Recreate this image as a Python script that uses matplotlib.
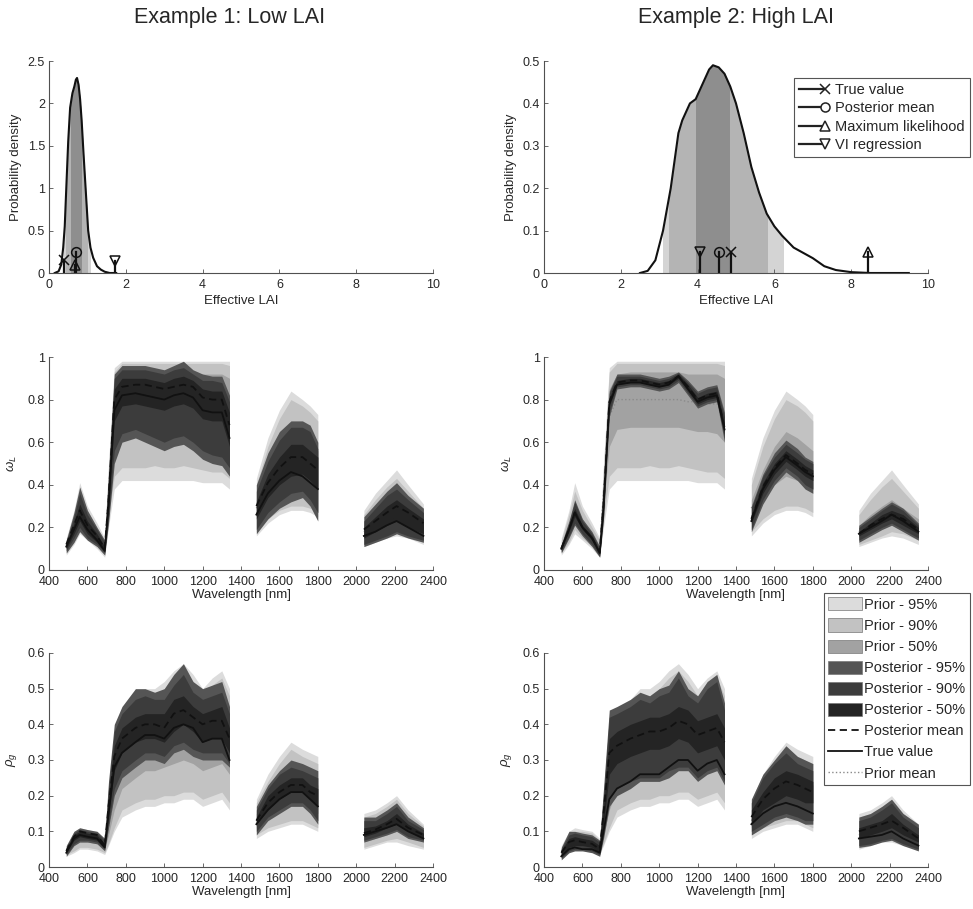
import numpy as np
import matplotlib
matplotlib.use('Agg')
import matplotlib.pyplot as plt
from matplotlib.lines import Line2D
from matplotlib.patches import Patch, Rectangle
from matplotlib.ticker import FuncFormatter

plt.rcParams['font.family'] = ['Liberation Sans', 'DejaVu Sans']
plt.rcParams['mathtext.fontset'] = 'custom'
plt.rcParams['mathtext.rm'] = 'Liberation Sans'
plt.rcParams['mathtext.it'] = 'Liberation Sans:italic'

# ---------------- density data ----------------
lai1_x = [0.15, 0.25, 0.32, 0.37, 0.41, 0.45, 0.50, 0.55, 0.61, 0.66, 0.70, 0.73, 0.77, 0.81,
          0.85, 0.90, 0.96, 1.02, 1.08, 1.15, 1.25, 1.35, 1.45, 1.58, 1.75]
lai1_y = [0, 0.02, 0.1, 0.3, 0.55, 1.0, 1.55, 1.95, 2.12, 2.2, 2.28, 2.3, 2.22, 2.05,
          1.8, 1.4, 0.95, 0.5, 0.3, 0.18, 0.08, 0.04, 0.015, 0.0, 0.0]
lai1_int95 = [0.38, 1.08]
lai1_int90 = [0.43, 1.00]
lai1_int50 = [0.56, 0.84]
lai1_est = [0.38, 0.70, 0.68, 1.71]          # true, post mean, max lik, VI
lai1_est_h = [0.15, 0.25, 0.10, 0.14]

lai2_x = [2.5, 2.7, 2.9, 3.1, 3.3, 3.5, 3.6, 3.8, 3.95, 4.1, 4.3, 4.4, 4.55, 4.7, 4.85, 5.0,
          5.2, 5.4, 5.6, 5.8, 6.0, 6.2, 6.5, 6.8, 7.0, 7.3, 7.6, 8.0, 8.5, 9.5]
lai2_y = [0, 0.005, 0.03, 0.1, 0.2, 0.33, 0.36, 0.4, 0.41, 0.44, 0.48, 0.49, 0.485, 0.47, 0.44, 0.40,
          0.33, 0.25, 0.19, 0.14, 0.11, 0.088, 0.06, 0.045, 0.035, 0.016, 0.007, 0.002, 0, 0]
lai2_int95 = [3.10, 6.23]
lai2_int90 = [3.25, 5.80]
lai2_int50 = [3.97, 4.83]
lai2_est = [4.86, 4.55, 8.43, 4.06]
lai2_est_h = [0.05, 0.05, 0.05, 0.05]

est_labels = ['True value', 'Posterior mean', 'Maximum likelihood', 'VI regression']
est_markers = ['x', 'o', '^', 'v']

# ---------------- spectral data ----------------
wl = [490, 530, 560, 600, 650, 690, 710, 740, 780, 850, 900, 950, 1000, 1050, 1100, 1150, 1200, 1250, 1300, 1340,
      1480, 1540, 1600, 1660, 1720, 1760, 1800,
      2040, 2100, 2160, 2210, 2270, 2350]

# prior for leaf albedo (shared)
wL_pr95_lo = [.07, .12, .17, .14, .10, .06, .20, .38, .42, .42, .42, .42, .42, .42, .42, .42, .41, .41, .41, .38,
              .16, .22, .26, .28, .28, .27, .25, .11, .13, .15, .16, .15, .12]
wL_pr95_hi = [.15, .28, .41, .30, .22, .15, .50, .95, .98, .98, .98, .98, .98, .98, .98, .98, .98, .98, .98, .98,
              .43, .62, .75, .84, .80, .77, .73, .28, .36, .42, .47, .40, .31]
wL_pr90_lo = [.08, .13, .19, .15, .11, .07, .24, .44, .48, .48, .48, .49, .48, .48, .49, .48, .47, .46, .46, .43,
              .18, .24, .28, .30, .30, .29, .27, .12, .14, .16, .18, .17, .14]
wL_pr90_hi = [.14, .26, .37, .28, .20, .14, .48, .93, .97, .97, .97, .97, .97, .97, .97, .97, .97, .97, .97, .96,
              .40, .58, .71, .80, .77, .74, .70, .26, .33, .39, .43, .37, .29]
wL_pr50_lo = [.09, .16, .23, .18, .13, .08, .30, .58, .66, .67, .67, .67, .67, .67, .67, .66, .65, .65, .64, .60,
              .25, .33, .40, .44, .42, .40, .38, .15, .18, .21, .23, .21, .18]
wL_pr50_hi = [.12, .21, .31, .24, .17, .11, .42, .85, .92, .93, .93, .93, .93, .93, .93, .92, .92, .92, .92, .90,
              .33, .47, .58, .65, .62, .59, .56, .21, .26, .30, .33, .29, .24]
wL_pr_mean = [.105, .185, .27, .21, .15, .095, .36, .72, .80, .80, .80, .80, .80, .80, .80, .79, .79, .78, .78, .75,
              .29, .40, .49, .55, .52, .50, .47, .18, .22, .26, .28, .25, .21]

# example 1 leaf albedo posterior
wL1_true = [.11, .19, .25, .19, .14, .09, .30, .75, .82, .83, .82, .81, .80, .82, .83, .81, .75, .74, .74, .62,
            .26, .36, .42, .46, .44, .41, .38, .16, .18, .21, .23, .20, .16]
wL1_mean = [.12, .21, .28, .21, .16, .10, .33, .80, .86, .87, .87, .86, .85, .86, .87, .86, .81, .80, .80, .68,
            .30, .41, .48, .53, .53, .50, .47, .19, .23, .27, .30, .27, .22]
wL1_p95_lo = [.08, .13, .18, .14, .11, .07, .22, .50, .60, .62, .60, .58, .56, .58, .59, .56, .52, .50, .49, .44,
              .17, .24, .29, .32, .34, .30, .23, .11, .13, .15, .17, .15, .13]
wL1_p95_hi = [.14, .27, .39, .28, .20, .14, .45, .92, .96, .96, .96, .95, .94, .96, .98, .94, .92, .91, .91, .82,
              .40, .55, .65, .70, .70, .68, .60, .25, .31, .37, .41, .35, .29]
wL1_p90_lo = [.09, .15, .20, .15, .12, .08, .25, .56, .64, .66, .64, .62, .60, .62, .63, .60, .56, .54, .53, .48,
              .19, .27, .32, .36, .37, .33, .27, .12, .14, .16, .18, .16, .14]
wL1_p90_hi = [.13, .25, .36, .26, .19, .13, .42, .90, .94, .94, .94, .93, .92, .94, .95, .92, .89, .89, .88, .79,
              .37, .51, .61, .67, .67, .65, .57, .23, .29, .35, .38, .33, .27]
wL1_p50_lo = [.10, .17, .23, .17, .13, .085, .29, .70, .77, .78, .77, .76, .75, .77, .78, .76, .71, .70, .70, .58,
              .24, .34, .40, .44, .45, .42, .38, .15, .18, .21, .23, .20, .17]
wL1_p50_hi = [.12, .22, .31, .23, .17, .11, .37, .85, .90, .90, .90, .89, .88, .90, .91, .89, .85, .84, .84, .74,
              .32, .45, .53, .59, .59, .56, .53, .20, .25, .30, .33, .29, .24]

# example 2 leaf albedo posterior
wL2_true = [.10, .19, .27, .20, .15, .08, .30, .78, .87, .88, .88, .87, .86, .87, .91, .85, .79, .81, .82, .66,
            .23, .38, .47, .53, .49, .46, .44, .17, .20, .23, .26, .23, .18]
wL2_mean = [.10, .19, .27, .20, .15, .085, .31, .79, .88, .89, .89, .88, .87, .88, .91, .86, .80, .82, .83, .67,
            .24, .39, .48, .54, .50, .47, .45, .17, .21, .24, .26, .24, .19]
wL2_p95_lo = [.08, .15, .21, .16, .11, .06, .24, .72, .85, .86, .86, .85, .84, .85, .88, .82, .76, .78, .79, .60,
              .18, .31, .40, .46, .42, .38, .36, .13, .16, .19, .21, .18, .14]
wL2_p95_hi = [.12, .23, .33, .24, .18, .11, .36, .84, .92, .92, .92, .91, .90, .91, .93, .89, .84, .86, .87, .74,
              .30, .45, .55, .61, .57, .53, .51, .21, .25, .29, .32, .29, .22]
wL2_p90_lo = [.085, .16, .22, .17, .12, .065, .25, .74, .86, .87, .87, .86, .85, .86, .89, .83, .77, .79, .80, .62,
              .19, .33, .42, .48, .44, .40, .38, .14, .17, .20, .22, .19, .15]
wL2_p90_hi = [.115, .22, .32, .23, .17, .10, .35, .83, .91, .91, .91, .90, .89, .90, .925, .88, .83, .85, .86, .72,
              .29, .44, .53, .59, .55, .52, .50, .20, .24, .28, .31, .28, .21]
wL2_p50_lo = [.095, .18, .25, .19, .14, .075, .28, .77, .87, .88, .88, .87, .86, .87, .90, .84, .78, .80, .81, .64,
              .22, .36, .45, .51, .47, .44, .42, .16, .19, .22, .24, .21, .17]
wL2_p50_hi = [.105, .20, .29, .21, .16, .09, .33, .81, .89, .90, .90, .89, .88, .89, .92, .87, .81, .83, .84, .69,
              .26, .41, .50, .56, .52, .49, .47, .18, .22, .26, .28, .26, .20]

# prior for ground reflectance (shared)
rg_pr95_lo = [.03, .04, .05, .05, .045, .035, .06, .10, .14, .16, .17, .17, .18, .18, .19, .19, .17, .18, .19, .16,
              .08, .10, .11, .12, .12, .11, .10, .05, .06, .07, .07, .06, .05]
rg_pr95_hi = [.06, .10, .11, .105, .10, .08, .17, .34, .42, .47, .50, .50, .52, .55, .57, .54, .50, .53, .55, .50,
              .19, .26, .31, .35, .33, .32, .31, .15, .16, .18, .20, .16, .12]
rg_pr90_lo = [.035, .045, .055, .055, .05, .04, .065, .11, .16, .18, .19, .19, .20, .20, .21, .21, .19, .20, .21, .18,
              .09, .11, .12, .13, .13, .12, .11, .055, .065, .075, .08, .07, .055]
rg_pr90_hi = [.055, .09, .10, .10, .095, .075, .16, .32, .40, .45, .48, .48, .50, .53, .55, .52, .48, .51, .53, .48,
              .18, .24, .29, .33, .31, .30, .29, .14, .15, .17, .19, .15, .115]
rg_pr50_lo = [.04, .06, .07, .07, .065, .05, .09, .16, .22, .25, .27, .27, .28, .29, .30, .29, .27, .28, .29, .26,
              .11, .14, .16, .18, .18, .17, .15, .07, .08, .09, .10, .09, .07]
rg_pr50_hi = [.05, .08, .09, .09, .085, .065, .13, .26, .33, .37, .39, .39, .41, .43, .45, .42, .39, .41, .43, .38,
              .15, .20, .24, .27, .26, .25, .23, .11, .12, .14, .15, .12, .09]
rg_pr_mean = [.045, .07, .08, .08, .075, .058, .11, .21, .28, .31, .33, .33, .34, .36, .37, .36, .33, .35, .36, .32,
              .13, .17, .20, .22, .22, .21, .19, .09, .10, .115, .125, .105, .08]

# example 1 ground reflectance posterior
rg1_true = [.04, .08, .09, .085, .08, .055, .15, .28, .32, .35, .37, .37, .36, .39, .40, .39, .35, .36, .36, .30,
            .12, .16, .19, .21, .21, .19, .17, .09, .10, .11, .12, .10, .08]
rg1_mean = [.045, .085, .10, .095, .09, .06, .17, .31, .36, .39, .40, .40, .39, .43, .44, .42, .40, .41, .41, .36,
            .13, .18, .21, .23, .23, .21, .20, .095, .105, .12, .135, .11, .09]
rg1_p95_lo = [.03, .06, .07, .07, .065, .045, .11, .20, .25, .28, .30, .30, .29, .32, .33, .31, .30, .30, .30, .28,
              .09, .13, .15, .17, .17, .15, .12, .07, .08, .09, .10, .08, .07]
rg1_p95_hi = [.06, .10, .11, .105, .10, .08, .24, .40, .45, .50, .50, .49, .50, .54, .57, .52, .50, .51, .52, .45,
              .17, .23, .27, .30, .29, .28, .27, .14, .14, .16, .18, .14, .11]
rg1_p90_lo = [.035, .065, .075, .075, .07, .05, .12, .22, .27, .30, .32, .32, .31, .34, .35, .33, .32, .32, .32, .29,
              .10, .14, .16, .18, .18, .16, .13, .075, .085, .095, .105, .085, .075]
rg1_p90_hi = [.055, .095, .105, .10, .095, .075, .22, .38, .43, .47, .48, .47, .47, .51, .54, .49, .47, .48, .49, .43,
              .16, .22, .26, .28, .27, .26, .25, .13, .13, .15, .17, .13, .105]
rg1_p50_lo = [.04, .075, .085, .08, .075, .055, .14, .27, .32, .35, .36, .36, .35, .38, .40, .38, .35, .36, .36, .32,
              .12, .16, .19, .21, .21, .19, .17, .085, .095, .11, .12, .10, .08]
rg1_p50_hi = [.05, .09, .10, .095, .09, .065, .19, .34, .39, .42, .43, .43, .43, .47, .48, .45, .43, .44, .45, .39,
              .14, .20, .23, .25, .25, .23, .22, .11, .115, .13, .15, .12, .095]

# example 2 ground reflectance posterior
rg2_true = [.03, .05, .055, .05, .05, .04, .10, .19, .22, .24, .26, .26, .26, .28, .30, .30, .27, .29, .30, .26,
            .12, .15, .17, .18, .17, .16, .15, .08, .085, .09, .10, .08, .06]
rg2_mean = [.04, .07, .075, .07, .065, .05, .15, .32, .34, .36, .37, .38, .38, .39, .41, .40, .37, .38, .39, .35,
            .14, .19, .22, .24, .23, .22, .21, .10, .11, .12, .13, .11, .08]
rg2_p95_lo = [.02, .04, .045, .045, .04, .03, .08, .17, .20, .22, .24, .24, .24, .25, .27, .27, .24, .26, .27, .23,
              .09, .11, .13, .14, .13, .12, .12, .055, .06, .07, .075, .06, .045]
rg2_p95_hi = [.055, .10, .10, .095, .09, .075, .22, .44, .45, .47, .49, .48, .50, .51, .55, .50, .48, .52, .54, .46,
              .19, .26, .30, .34, .31, .30, .29, .14, .15, .17, .19, .15, .12]
rg2_p90_lo = [.025, .045, .05, .05, .045, .035, .09, .19, .22, .24, .25, .25, .25, .27, .28, .28, .25, .27, .28, .24,
              .10, .12, .14, .15, .14, .13, .13, .06, .065, .075, .08, .065, .05]
rg2_p90_hi = [.05, .09, .095, .09, .085, .07, .20, .42, .43, .45, .47, .46, .48, .49, .53, .48, .46, .50, .52, .44,
              .18, .25, .29, .32, .29, .28, .27, .13, .14, .16, .18, .14, .11]
rg2_p50_lo = [.03, .055, .06, .06, .055, .04, .12, .26, .29, .31, .32, .33, .33, .34, .36, .35, .32, .33, .34, .30,
              .12, .16, .18, .20, .19, .18, .18, .08, .09, .10, .11, .09, .07]
rg2_p50_hi = [.045, .08, .085, .08, .075, .06, .17, .36, .38, .40, .41, .42, .42, .43, .45, .44, .41, .42, .43, .39,
              .16, .21, .25, .27, .26, .25, .24, .11, .12, .13, .15, .12, .09]

band_labels = ['Prior - 95%', 'Prior - 90%', 'Prior - 50%',
               'Posterior - 95%', 'Posterior - 90%', 'Posterior - 50%']
band_colors = ['#dcdcdc', '#c2c2c2', '#a2a2a2', '#555555', '#3c3c3c', '#242424']
dens_colors = ['#d4d4d4', '#b4b4b4', '#8e8e8e']

# ---------------- figure ----------------
W, H = 973, 909
fig = plt.figure(figsize=(W / 100, H / 100), dpi=100)
TXT = '#262626'
AX = '#505050'


def pos(l, t, r, b):
    return [l / W, 1 - b / H, (r - l) / W, (b - t) / H]


fmt = FuncFormatter(lambda v, p: '%g' % round(v, 6))


def style(ax):
    for s in ['top', 'right']:
        ax.spines[s].set_visible(False)
    for s in ['left', 'bottom']:
        ax.spines[s].set_color(AX)
        ax.spines[s].set_linewidth(0.8)
    ax.tick_params(direction='in', length=3, width=0.6, color=AX, labelcolor=TXT, labelsize=9, pad=3)
    ax.tick_params(axis='x', pad=4)
    ax.xaxis.set_major_formatter(fmt)
    ax.yaxis.set_major_formatter(fmt)


class StemHandler:
    def legend_artist(self, legend, orig_handle, fontsize, handlebox):
        x0, y0 = handlebox.xdescent, handlebox.ydescent
        w, h = handlebox.width, handlebox.height
        tr = handlebox.get_transform()
        ln = Line2D([x0, x0 + w], [y0 + h / 2] * 2, color='#222222', lw=1.6, transform=tr)
        mk = Line2D([x0 + w], [y0 + h / 2], marker=orig_handle.get_marker(), ms=6.5,
                    mfc='white' if orig_handle.get_marker() != 'x' else 'k', mec='#222222', mew=1.1,
                    lw=0, transform=tr)
        handlebox.add_artist(ln)
        handlebox.add_artist(mk)
        return ln


def density(ax, xs, ys, ints, est, est_h, ymax, yticks):
    xs = np.array(xs)
    ys = np.array(ys)
    for (lo, hi), c in zip(ints, dens_colors):
        poly = ax.fill_between(xs, 0, ys, color=c, lw=0)
        poly.set_clip_path(Rectangle((lo, 0), hi - lo, ymax * 2, transform=ax.transData))
    ax.plot(xs, ys, color='#111111', lw=1.5)
    handles = []
    for xv, hv, m, lab in zip(est, est_h, est_markers, est_labels):
        ax.plot([xv, xv], [0, hv], color='#111111', lw=1.6)
        ax.plot([xv], [hv], marker=m, ms=7, mfc='none', mec='#111111', mew=1.1, lw=0)
        handles.append(Line2D([], [], marker=m, color='k', label=lab))
    ax.set_xlim(0, 10)
    ax.set_ylim(0, ymax)
    ax.set_xticks(range(0, 11, 2))
    ax.set_yticks(yticks)
    ax.set_xlabel('Effective LAI', fontsize=9.5, color=TXT, labelpad=3)
    ax.set_ylabel('Probability density', fontsize=9.5, color=TXT, labelpad=4)
    style(ax)
    return handles


ax1 = fig.add_axes(pos(49, 61, 433, 273))
h_est = density(ax1, lai1_x, lai1_y, [lai1_int95, lai1_int90, lai1_int50], lai1_est, lai1_est_h,
                2.5, np.arange(0, 2.51, 0.5))
ax2 = fig.add_axes(pos(544, 61, 928, 273))
density(ax2, lai2_x, lai2_y, [lai2_int95, lai2_int90, lai2_int50], lai2_est, lai2_est_h,
        0.5, np.arange(0, 0.51, 0.1))
leg1 = ax2.legend(handles=h_est, labels=est_labels, handler_map={Line2D: StemHandler()},
                  loc='upper right', bbox_to_anchor=(970 / W, 1 - 78 / H), bbox_transform=fig.transFigure,
                  fontsize=10.5, frameon=True, fancybox=False, edgecolor='#555555', framealpha=1,
                  handlelength=1.8, handletextpad=0.7, labelspacing=0.3, borderpad=0.35, borderaxespad=0)
leg1.get_frame().set_linewidth(0.8)
for t in leg1.get_texts():
    t.set_color(TXT)

wl_arr = np.array(wl)
breaks = np.where(np.diff(wl_arr) > 100)[0] + 1
segments = np.split(np.arange(len(wl_arr)), breaks)


def spectral(ax, prior, post, true, mean, pmean, ymax, yticks, ylabel):
    pm = np.array(pmean)
    tv = np.array(true)
    mv = np.array(mean)
    for (lo, hi), c in zip(prior, band_colors[:3]):
        lo = np.array(lo)
        hi = np.array(hi)
        for s in segments:
            ax.fill_between(wl_arr[s], lo[s], hi[s], color=c, lw=0, zorder=1.0)
    for s in segments:
        ax.plot(wl_arr[s], pm[s], color='#8a8a8a', lw=1.0, ls=':', zorder=1.2)
    for (lo, hi), c in zip(post, band_colors[3:]):
        lo = np.array(lo)
        hi = np.array(hi)
        for s in segments:
            ax.fill_between(wl_arr[s], lo[s], hi[s], color=c, lw=0, zorder=1.5)
    for s in segments:
        ax.plot(wl_arr[s], tv[s], color='#111111', lw=1.3, zorder=2.0)
        ax.plot(wl_arr[s], mv[s], color='#111111', lw=1.3, ls=(0, (4, 2.5)), zorder=2.1)
    ax.set_xlim(400, 2400)
    ax.set_ylim(0, ymax)
    ax.set_xticks(range(400, 2401, 200))
    ax.set_yticks(yticks)
    ax.set_xlabel('Wavelength [nm]', fontsize=9.5, color=TXT, labelpad=1)
    ax.set_ylabel(ylabel, fontsize=9.5, color=TXT, labelpad=6)
    style(ax)


prior_wL = [(wL_pr95_lo, wL_pr95_hi), (wL_pr90_lo, wL_pr90_hi), (wL_pr50_lo, wL_pr50_hi)]
prior_rg = [(rg_pr95_lo, rg_pr95_hi), (rg_pr90_lo, rg_pr90_hi), (rg_pr50_lo, rg_pr50_hi)]

ax3 = fig.add_axes(pos(49, 357, 433, 570))
spectral(ax3, prior_wL, [(wL1_p95_lo, wL1_p95_hi), (wL1_p90_lo, wL1_p90_hi), (wL1_p50_lo, wL1_p50_hi)],
         wL1_true, wL1_mean, wL_pr_mean, 1, np.arange(0, 1.01, 0.2), r'$\omega_L$')
ax4 = fig.add_axes(pos(544, 357, 928, 570))
spectral(ax4, prior_wL, [(wL2_p95_lo, wL2_p95_hi), (wL2_p90_lo, wL2_p90_hi), (wL2_p50_lo, wL2_p50_hi)],
         wL2_true, wL2_mean, wL_pr_mean, 1, np.arange(0, 1.01, 0.2), r'$\omega_L$')
ax5 = fig.add_axes(pos(49, 653, 433, 867))
spectral(ax5, prior_rg, [(rg1_p95_lo, rg1_p95_hi), (rg1_p90_lo, rg1_p90_hi), (rg1_p50_lo, rg1_p50_hi)],
         rg1_true, rg1_mean, rg_pr_mean, 0.6, np.arange(0, 0.61, 0.1), r'$\rho_g$')
ax6 = fig.add_axes(pos(544, 653, 928, 867))
spectral(ax6, prior_rg, [(rg2_p95_lo, rg2_p95_hi), (rg2_p90_lo, rg2_p90_hi), (rg2_p50_lo, rg2_p50_hi)],
         rg2_true, rg2_mean, rg_pr_mean, 0.6, np.arange(0, 0.61, 0.1), r'$\rho_g$')

band_handles = [Patch(facecolor=c, edgecolor='#777777', lw=0.5, label=l) for c, l in zip(band_colors, band_labels)]
line_handles = [Line2D([], [], color='#111111', lw=1.3, ls=(0, (4, 2.5)), label='Posterior mean'),
                Line2D([], [], color='#111111', lw=1.3, label='True value'),
                Line2D([], [], color='#8a8a8a', lw=1.0, ls=':', label='Prior mean')]
leg2 = ax6.legend(handles=band_handles + line_handles, loc='upper right',
                  bbox_to_anchor=(970 / W, 1 - 593 / H), bbox_transform=fig.transFigure,
                  fontsize=10.5, frameon=True, fancybox=False, edgecolor='#555555', framealpha=1,
                  handlelength=2.3, handleheight=1.0, handletextpad=0.2, labelspacing=0.45,
                  borderpad=0.3, borderaxespad=0)
leg2.set_zorder(10)
leg2.get_frame().set_linewidth(0.8)
for t in leg2.get_texts():
    t.set_color(TXT)

fig.text(230 / W, 1 - 18 / H, 'Example 1: Low LAI', ha='center', va='center', fontsize=15.5, color=TXT)
fig.text(736 / W, 1 - 18 / H, 'Example 2: High LAI', ha='center', va='center', fontsize=15.5, color=TXT)

fig.savefig('out.png', dpi=100)
